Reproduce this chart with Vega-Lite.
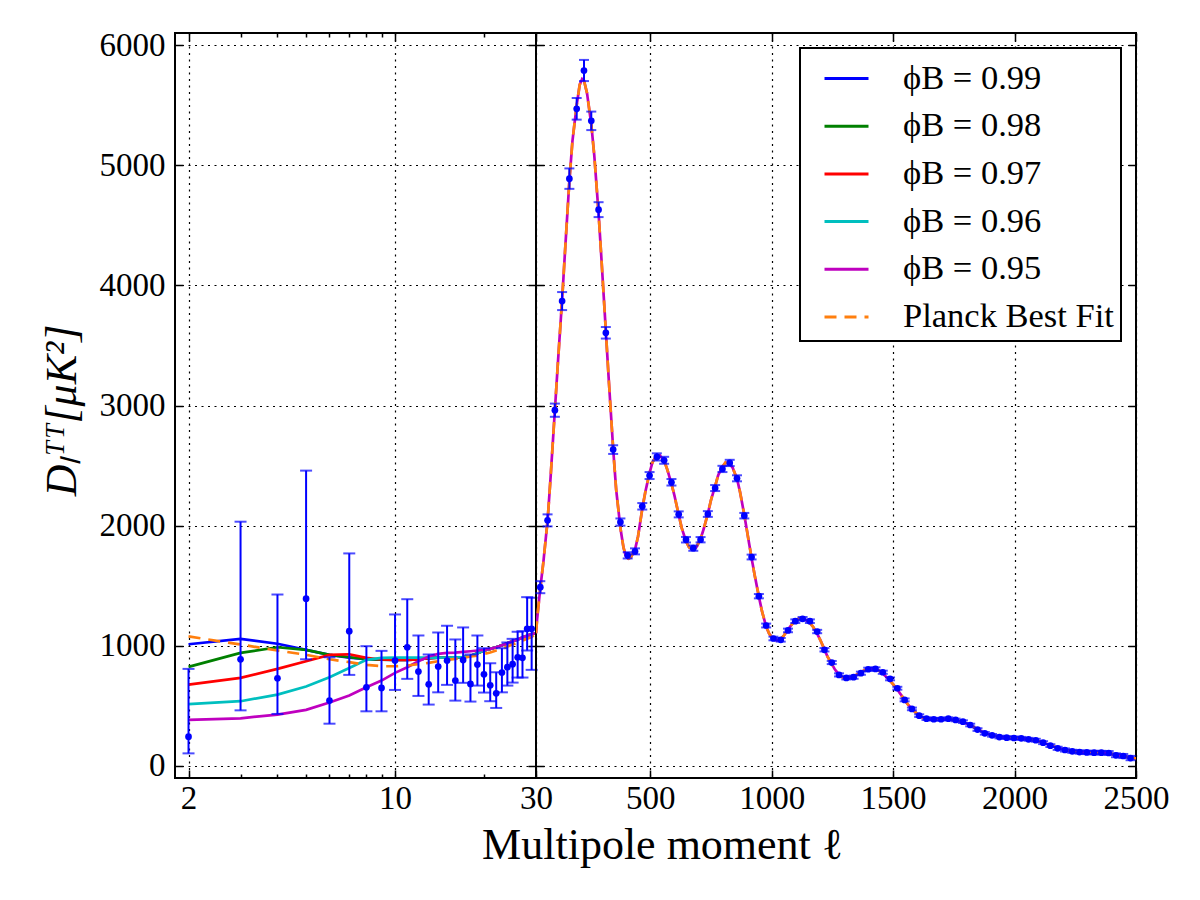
{
  "$schema": "https://vega.github.io/schema/vega-lite/v6.json",
  "background": "white",
  "padding": {"left": 39, "top": 28, "right": 0, "bottom": 0},
  "bounds": "flush",
  "spacing": 0,
  "datasets": {
    "low_l": [
      {"l": 2, "D": 244, "lo": 105, "hi": 808},
      {"l": 3, "D": 888, "lo": 463, "hi": 2033},
      {"l": 4, "D": 730, "lo": 433, "hi": 1427},
      {"l": 5, "D": 1392, "lo": 888, "hi": 2458},
      {"l": 6, "D": 544, "lo": 352, "hi": 905},
      {"l": 7, "D": 1122, "lo": 758, "hi": 1769},
      {"l": 8, "D": 655, "lo": 455, "hi": 997},
      {"l": 9, "D": 650, "lo": 455, "hi": 958},
      {"l": 10, "D": 877, "lo": 633, "hi": 1261},
      {"l": 11, "D": 988, "lo": 725, "hi": 1388},
      {"l": 12, "D": 786, "lo": 583, "hi": 1086},
      {"l": 13, "D": 680, "lo": 511, "hi": 928},
      {"l": 14, "D": 828, "lo": 613, "hi": 1111},
      {"l": 15, "D": 877, "lo": 675, "hi": 1167},
      {"l": 16, "D": 711, "lo": 544, "hi": 1053},
      {"l": 17, "D": 883, "lo": 692, "hi": 1153},
      {"l": 18, "D": 683, "lo": 536, "hi": 928},
      {"l": 19, "D": 844, "lo": 669, "hi": 1086},
      {"l": 20, "D": 763, "lo": 611, "hi": 980},
      {"l": 21, "D": 672, "lo": 539, "hi": 855},
      {"l": 22, "D": 605, "lo": 483, "hi": 780},
      {"l": 23, "D": 778, "lo": 613, "hi": 980},
      {"l": 24, "D": 822, "lo": 669, "hi": 1028},
      {"l": 25, "D": 847, "lo": 694, "hi": 1058},
      {"l": 26, "D": 905, "lo": 736, "hi": 1117},
      {"l": 27, "D": 900, "lo": 736, "hi": 1122},
      {"l": 28, "D": 1142, "lo": 961, "hi": 1405},
      {"l": 29, "D": 1142, "lo": 800, "hi": 1400}
    ],
    "binned": [
      {"l": 47.7, "D": 1488, "err": 50}, {"l": 77.6, "D": 2044, "err": 50}, {"l": 107.7, "D": 2961, "err": 55},
      {"l": 137.5, "D": 3869, "err": 75}, {"l": 167.4, "D": 4888, "err": 85}, {"l": 197.5, "D": 5469, "err": 90},
      {"l": 227.5, "D": 5788, "err": 88}, {"l": 257.6, "D": 5369, "err": 77}, {"l": 287.6, "D": 4630, "err": 62},
      {"l": 317.5, "D": 3605, "err": 48}, {"l": 347.6, "D": 2633, "err": 36}, {"l": 377.5, "D": 2030, "err": 30},
      {"l": 407.5, "D": 1753, "err": 26}, {"l": 437.6, "D": 1786, "err": 25}, {"l": 467.5, "D": 2161, "err": 27},
      {"l": 497.5, "D": 2417, "err": 29}, {"l": 527.5, "D": 2572, "err": 30}, {"l": 557.5, "D": 2544, "err": 29},
      {"l": 587.6, "D": 2361, "err": 27}, {"l": 617.5, "D": 2094, "err": 25}, {"l": 647.6, "D": 1883, "err": 23},
      {"l": 677.5, "D": 1813, "err": 22}, {"l": 707.5, "D": 1883, "err": 22}, {"l": 737.5, "D": 2097, "err": 24},
      {"l": 767.5, "D": 2313, "err": 25}, {"l": 797.5, "D": 2472, "err": 26}, {"l": 827.5, "D": 2522, "err": 26},
      {"l": 857.5, "D": 2394, "err": 25}, {"l": 887.5, "D": 2083, "err": 23}, {"l": 917.5, "D": 1739, "err": 20},
      {"l": 947.5, "D": 1413, "err": 18}, {"l": 977.5, "D": 1169, "err": 16}, {"l": 1007.5, "D": 1061, "err": 15},
      {"l": 1037.5, "D": 1050, "err": 15}, {"l": 1067.5, "D": 1128, "err": 15}, {"l": 1097.5, "D": 1205, "err": 15},
      {"l": 1127.5, "D": 1225, "err": 15}, {"l": 1157.5, "D": 1205, "err": 15}, {"l": 1187.5, "D": 1119, "err": 14},
      {"l": 1217.5, "D": 967, "err": 14}, {"l": 1247.5, "D": 861, "err": 13}, {"l": 1277.5, "D": 758, "err": 13},
      {"l": 1307.5, "D": 733, "err": 13}, {"l": 1337.5, "D": 739, "err": 13}, {"l": 1367.5, "D": 772, "err": 13},
      {"l": 1397.5, "D": 805, "err": 13}, {"l": 1427.5, "D": 808, "err": 13}, {"l": 1457.5, "D": 780, "err": 13},
      {"l": 1487.5, "D": 725, "err": 12}, {"l": 1517.5, "D": 647, "err": 12}, {"l": 1547.5, "D": 550, "err": 12},
      {"l": 1577.5, "D": 475, "err": 11}, {"l": 1607.5, "D": 419, "err": 11}, {"l": 1637.5, "D": 394, "err": 11},
      {"l": 1667.5, "D": 389, "err": 11}, {"l": 1697.5, "D": 389, "err": 11}, {"l": 1727.5, "D": 394, "err": 11},
      {"l": 1757.5, "D": 383, "err": 11}, {"l": 1787.5, "D": 369, "err": 11}, {"l": 1817.5, "D": 341, "err": 11},
      {"l": 1847.5, "D": 303, "err": 11}, {"l": 1877.5, "D": 272, "err": 11}, {"l": 1907.5, "D": 255, "err": 11},
      {"l": 1937.5, "D": 241, "err": 11}, {"l": 1967.5, "D": 236, "err": 11}, {"l": 1997.5, "D": 233, "err": 12},
      {"l": 2027.5, "D": 230, "err": 12}, {"l": 2057.5, "D": 222, "err": 12}, {"l": 2087.5, "D": 214, "err": 12},
      {"l": 2117.5, "D": 194, "err": 12}, {"l": 2147.5, "D": 169, "err": 12}, {"l": 2177.5, "D": 147, "err": 13},
      {"l": 2207.5, "D": 133, "err": 13}, {"l": 2237.5, "D": 122, "err": 13}, {"l": 2267.5, "D": 116, "err": 14},
      {"l": 2297.5, "D": 113, "err": 14}, {"l": 2327.5, "D": 111, "err": 15}, {"l": 2357.5, "D": 111, "err": 15},
      {"l": 2387.5, "D": 108, "err": 16}, {"l": 2417.5, "D": 89, "err": 16}, {"l": 2447.5, "D": 83, "err": 17},
      {"l": 2477.5, "D": 66, "err": 18}
    ],
    "models": [
      {"l": 2, "model": "ϕB = 0.99", "D": 1013}, {"l": 3, "model": "ϕB = 0.99", "D": 1058}, {"l": 4, "model": "ϕB = 0.99", "D": 1017},
      {"l": 5, "model": "ϕB = 0.99", "D": 966}, {"l": 6, "model": "ϕB = 0.99", "D": 925}, {"l": 7, "model": "ϕB = 0.99", "D": 902},
      {"l": 8, "model": "ϕB = 0.99", "D": 890}, {"l": 9, "model": "ϕB = 0.99", "D": 885}, {"l": 10, "model": "ϕB = 0.99", "D": 883},
      {"l": 11, "model": "ϕB = 0.99", "D": 883}, {"l": 12, "model": "ϕB = 0.99", "D": 888}, {"l": 13, "model": "ϕB = 0.99", "D": 897},
      {"l": 14, "model": "ϕB = 0.99", "D": 902}, {"l": 15, "model": "ϕB = 0.99", "D": 903}, {"l": 16, "model": "ϕB = 0.99", "D": 904},
      {"l": 17, "model": "ϕB = 0.99", "D": 906}, {"l": 18, "model": "ϕB = 0.99", "D": 915}, {"l": 19, "model": "ϕB = 0.99", "D": 938},
      {"l": 20, "model": "ϕB = 0.99", "D": 962}, {"l": 21, "model": "ϕB = 0.99", "D": 975}, {"l": 22, "model": "ϕB = 0.99", "D": 988},
      {"l": 23, "model": "ϕB = 0.99", "D": 1005}, {"l": 24, "model": "ϕB = 0.99", "D": 1022}, {"l": 25, "model": "ϕB = 0.99", "D": 1038},
      {"l": 26, "model": "ϕB = 0.99", "D": 1052}, {"l": 27, "model": "ϕB = 0.99", "D": 1069}, {"l": 28, "model": "ϕB = 0.99", "D": 1083},
      {"l": 29, "model": "ϕB = 0.99", "D": 1097}, {"l": 30, "model": "ϕB = 0.99", "D": 1105},

      {"l": 2, "model": "ϕB = 0.98", "D": 825}, {"l": 3, "model": "ϕB = 0.98", "D": 941}, {"l": 4, "model": "ϕB = 0.98", "D": 988},
      {"l": 5, "model": "ϕB = 0.98", "D": 966}, {"l": 6, "model": "ϕB = 0.98", "D": 925}, {"l": 7, "model": "ϕB = 0.98", "D": 905},
      {"l": 8, "model": "ϕB = 0.98", "D": 890}, {"l": 9, "model": "ϕB = 0.98", "D": 885}, {"l": 10, "model": "ϕB = 0.98", "D": 883},
      {"l": 11, "model": "ϕB = 0.98", "D": 883}, {"l": 12, "model": "ϕB = 0.98", "D": 888}, {"l": 13, "model": "ϕB = 0.98", "D": 897},
      {"l": 14, "model": "ϕB = 0.98", "D": 902}, {"l": 15, "model": "ϕB = 0.98", "D": 903}, {"l": 16, "model": "ϕB = 0.98", "D": 904},
      {"l": 17, "model": "ϕB = 0.98", "D": 906}, {"l": 18, "model": "ϕB = 0.98", "D": 915}, {"l": 19, "model": "ϕB = 0.98", "D": 938},
      {"l": 20, "model": "ϕB = 0.98", "D": 962}, {"l": 21, "model": "ϕB = 0.98", "D": 975}, {"l": 22, "model": "ϕB = 0.98", "D": 988},
      {"l": 23, "model": "ϕB = 0.98", "D": 1005}, {"l": 24, "model": "ϕB = 0.98", "D": 1022}, {"l": 25, "model": "ϕB = 0.98", "D": 1038},
      {"l": 26, "model": "ϕB = 0.98", "D": 1052}, {"l": 27, "model": "ϕB = 0.98", "D": 1069}, {"l": 28, "model": "ϕB = 0.98", "D": 1083},
      {"l": 29, "model": "ϕB = 0.98", "D": 1097}, {"l": 30, "model": "ϕB = 0.98", "D": 1105},

      {"l": 2, "model": "ϕB = 0.97", "D": 677}, {"l": 3, "model": "ϕB = 0.97", "D": 733}, {"l": 4, "model": "ϕB = 0.97", "D": 808},
      {"l": 5, "model": "ϕB = 0.97", "D": 872}, {"l": 6, "model": "ϕB = 0.97", "D": 925}, {"l": 7, "model": "ϕB = 0.97", "D": 930},
      {"l": 8, "model": "ϕB = 0.97", "D": 900}, {"l": 9, "model": "ϕB = 0.97", "D": 886}, {"l": 10, "model": "ϕB = 0.97", "D": 883},
      {"l": 11, "model": "ϕB = 0.97", "D": 883}, {"l": 12, "model": "ϕB = 0.97", "D": 888}, {"l": 13, "model": "ϕB = 0.97", "D": 897},
      {"l": 14, "model": "ϕB = 0.97", "D": 902}, {"l": 15, "model": "ϕB = 0.97", "D": 903}, {"l": 16, "model": "ϕB = 0.97", "D": 904},
      {"l": 17, "model": "ϕB = 0.97", "D": 906}, {"l": 18, "model": "ϕB = 0.97", "D": 915}, {"l": 19, "model": "ϕB = 0.97", "D": 938},
      {"l": 20, "model": "ϕB = 0.97", "D": 962}, {"l": 21, "model": "ϕB = 0.97", "D": 975}, {"l": 22, "model": "ϕB = 0.97", "D": 988},
      {"l": 23, "model": "ϕB = 0.97", "D": 1005}, {"l": 24, "model": "ϕB = 0.97", "D": 1022}, {"l": 25, "model": "ϕB = 0.97", "D": 1038},
      {"l": 26, "model": "ϕB = 0.97", "D": 1052}, {"l": 27, "model": "ϕB = 0.97", "D": 1069}, {"l": 28, "model": "ϕB = 0.97", "D": 1083},
      {"l": 29, "model": "ϕB = 0.97", "D": 1097}, {"l": 30, "model": "ϕB = 0.97", "D": 1105},

      {"l": 2, "model": "ϕB = 0.96", "D": 514}, {"l": 3, "model": "ϕB = 0.96", "D": 539}, {"l": 4, "model": "ϕB = 0.96", "D": 594},
      {"l": 5, "model": "ϕB = 0.96", "D": 661}, {"l": 6, "model": "ϕB = 0.96", "D": 739}, {"l": 7, "model": "ϕB = 0.96", "D": 816},
      {"l": 8, "model": "ϕB = 0.96", "D": 883}, {"l": 9, "model": "ϕB = 0.96", "D": 900}, {"l": 10, "model": "ϕB = 0.96", "D": 902},
      {"l": 11, "model": "ϕB = 0.96", "D": 902}, {"l": 12, "model": "ϕB = 0.96", "D": 902}, {"l": 13, "model": "ϕB = 0.96", "D": 902},
      {"l": 14, "model": "ϕB = 0.96", "D": 902}, {"l": 15, "model": "ϕB = 0.96", "D": 903}, {"l": 16, "model": "ϕB = 0.96", "D": 904},
      {"l": 17, "model": "ϕB = 0.96", "D": 906}, {"l": 18, "model": "ϕB = 0.96", "D": 915}, {"l": 19, "model": "ϕB = 0.96", "D": 938},
      {"l": 20, "model": "ϕB = 0.96", "D": 962}, {"l": 21, "model": "ϕB = 0.96", "D": 975}, {"l": 22, "model": "ϕB = 0.96", "D": 988},
      {"l": 23, "model": "ϕB = 0.96", "D": 1005}, {"l": 24, "model": "ϕB = 0.96", "D": 1022}, {"l": 25, "model": "ϕB = 0.96", "D": 1038},
      {"l": 26, "model": "ϕB = 0.96", "D": 1052}, {"l": 27, "model": "ϕB = 0.96", "D": 1069}, {"l": 28, "model": "ϕB = 0.96", "D": 1083},
      {"l": 29, "model": "ϕB = 0.96", "D": 1097}, {"l": 30, "model": "ϕB = 0.96", "D": 1105},

      {"l": 2, "model": "ϕB = 0.95", "D": 383}, {"l": 3, "model": "ϕB = 0.95", "D": 397}, {"l": 4, "model": "ϕB = 0.95", "D": 428},
      {"l": 5, "model": "ϕB = 0.95", "D": 467}, {"l": 6, "model": "ϕB = 0.95", "D": 528}, {"l": 7, "model": "ϕB = 0.95", "D": 586},
      {"l": 8, "model": "ϕB = 0.95", "D": 655}, {"l": 9, "model": "ϕB = 0.95", "D": 711}, {"l": 10, "model": "ϕB = 0.95", "D": 775},
      {"l": 11, "model": "ϕB = 0.95", "D": 822}, {"l": 12, "model": "ϕB = 0.95", "D": 872}, {"l": 13, "model": "ϕB = 0.95", "D": 911},
      {"l": 14, "model": "ϕB = 0.95", "D": 933}, {"l": 15, "model": "ϕB = 0.95", "D": 941}, {"l": 16, "model": "ϕB = 0.95", "D": 944},
      {"l": 17, "model": "ϕB = 0.95", "D": 950}, {"l": 18, "model": "ϕB = 0.95", "D": 955}, {"l": 19, "model": "ϕB = 0.95", "D": 961},
      {"l": 20, "model": "ϕB = 0.95", "D": 966}, {"l": 21, "model": "ϕB = 0.95", "D": 975}, {"l": 22, "model": "ϕB = 0.95", "D": 988},
      {"l": 23, "model": "ϕB = 0.95", "D": 1005}, {"l": 24, "model": "ϕB = 0.95", "D": 1022}, {"l": 25, "model": "ϕB = 0.95", "D": 1038},
      {"l": 26, "model": "ϕB = 0.95", "D": 1052}, {"l": 27, "model": "ϕB = 0.95", "D": 1069}, {"l": 28, "model": "ϕB = 0.95", "D": 1083},
      {"l": 29, "model": "ϕB = 0.95", "D": 1097}, {"l": 30, "model": "ϕB = 0.95", "D": 1105}
    ],
    "bestfit": [
      {"l": 2, "D": 1078}, {"l": 3, "D": 1011}, {"l": 4, "D": 961}, {"l": 5, "D": 925}, {"l": 6, "D": 888},
      {"l": 7, "D": 864}, {"l": 8, "D": 841}, {"l": 9, "D": 830}, {"l": 10, "D": 830}, {"l": 11, "D": 836},
      {"l": 12, "D": 847}, {"l": 13, "D": 858}, {"l": 14, "D": 872}, {"l": 15, "D": 883}, {"l": 16, "D": 891},
      {"l": 17, "D": 900}, {"l": 18, "D": 911}, {"l": 19, "D": 919}, {"l": 20, "D": 933}, {"l": 21, "D": 944},
      {"l": 22, "D": 961}, {"l": 23, "D": 977}, {"l": 24, "D": 994}, {"l": 25, "D": 1011}, {"l": 26, "D": 1027},
      {"l": 27, "D": 1044}, {"l": 28, "D": 1058}, {"l": 29, "D": 1072}, {"l": 30, "D": 1105},
      {"l": 35, "D": 1230}, {"l": 40, "D": 1330}, {"l": 47.7, "D": 1480}, {"l": 60, "D": 1690}, {"l": 77.6, "D": 2040},
      {"l": 90, "D": 2400}, {"l": 107.7, "D": 2960}, {"l": 120, "D": 3350}, {"l": 137.5, "D": 3880}, {"l": 150, "D": 4300},
      {"l": 167.4, "D": 4870}, {"l": 180, "D": 5200}, {"l": 197.5, "D": 5500}, {"l": 210, "D": 5670}, {"l": 220, "D": 5717},
      {"l": 227.5, "D": 5705}, {"l": 240, "D": 5600}, {"l": 257.6, "D": 5340}, {"l": 270, "D": 5080}, {"l": 287.6, "D": 4600},
      {"l": 300, "D": 4200}, {"l": 317.5, "D": 3620}, {"l": 330, "D": 3200}, {"l": 347.6, "D": 2640}, {"l": 360, "D": 2300},
      {"l": 377.5, "D": 1980}, {"l": 390, "D": 1820}, {"l": 400, "D": 1745}, {"l": 410, "D": 1725}, {"l": 420, "D": 1735},
      {"l": 437.6, "D": 1800}, {"l": 450, "D": 1910}, {"l": 467.5, "D": 2140}, {"l": 480, "D": 2280}, {"l": 497.5, "D": 2440},
      {"l": 510, "D": 2530}, {"l": 527.5, "D": 2585}, {"l": 540, "D": 2585}, {"l": 557.5, "D": 2540}, {"l": 570, "D": 2470},
      {"l": 587.6, "D": 2350}, {"l": 600, "D": 2250}, {"l": 617.5, "D": 2090}, {"l": 630, "D": 1980}, {"l": 647.6, "D": 1870},
      {"l": 660, "D": 1820}, {"l": 677.5, "D": 1800}, {"l": 690, "D": 1820}, {"l": 707.5, "D": 1890}, {"l": 720, "D": 1970},
      {"l": 737.5, "D": 2100}, {"l": 750, "D": 2210}, {"l": 767.5, "D": 2330}, {"l": 780, "D": 2420}, {"l": 797.5, "D": 2490},
      {"l": 810, "D": 2525}, {"l": 827.5, "D": 2515}, {"l": 840, "D": 2480}, {"l": 857.5, "D": 2390}, {"l": 870, "D": 2280},
      {"l": 887.5, "D": 2090}, {"l": 900, "D": 1940}, {"l": 917.5, "D": 1730}, {"l": 930, "D": 1590}, {"l": 947.5, "D": 1410},
      {"l": 960, "D": 1290}, {"l": 977.5, "D": 1160}, {"l": 990, "D": 1100}, {"l": 1007.5, "D": 1055}, {"l": 1020, "D": 1045},
      {"l": 1037.5, "D": 1055}, {"l": 1050, "D": 1085}, {"l": 1067.5, "D": 1135}, {"l": 1080, "D": 1170}, {"l": 1097.5, "D": 1210},
      {"l": 1110, "D": 1225}, {"l": 1127.5, "D": 1228}, {"l": 1140, "D": 1215}, {"l": 1157.5, "D": 1190}, {"l": 1170, "D": 1160},
      {"l": 1187.5, "D": 1100}, {"l": 1200, "D": 1050}, {"l": 1217.5, "D": 970}, {"l": 1230, "D": 910}, {"l": 1247.5, "D": 850},
      {"l": 1260, "D": 805}, {"l": 1277.5, "D": 760}, {"l": 1290, "D": 740}, {"l": 1307.5, "D": 730}, {"l": 1320, "D": 733},
      {"l": 1337.5, "D": 745}, {"l": 1350, "D": 760}, {"l": 1367.5, "D": 780}, {"l": 1380, "D": 795}, {"l": 1397.5, "D": 808},
      {"l": 1410, "D": 812}, {"l": 1427.5, "D": 808}, {"l": 1440, "D": 795}, {"l": 1457.5, "D": 770}, {"l": 1470, "D": 745},
      {"l": 1487.5, "D": 710}, {"l": 1500, "D": 680}, {"l": 1517.5, "D": 635}, {"l": 1530, "D": 600}, {"l": 1547.5, "D": 550},
      {"l": 1560, "D": 515}, {"l": 1577.5, "D": 475}, {"l": 1590, "D": 450}, {"l": 1607.5, "D": 422}, {"l": 1620, "D": 405},
      {"l": 1637.5, "D": 392}, {"l": 1660, "D": 386}, {"l": 1690, "D": 386}, {"l": 1720, "D": 388}, {"l": 1750, "D": 382},
      {"l": 1780, "D": 370}, {"l": 1810, "D": 348}, {"l": 1840, "D": 315}, {"l": 1870, "D": 282}, {"l": 1900, "D": 260},
      {"l": 1930, "D": 245}, {"l": 1960, "D": 237}, {"l": 1990, "D": 233}, {"l": 2020, "D": 230}, {"l": 2050, "D": 224},
      {"l": 2080, "D": 215}, {"l": 2110, "D": 200}, {"l": 2140, "D": 178}, {"l": 2170, "D": 155}, {"l": 2200, "D": 138},
      {"l": 2230, "D": 125}, {"l": 2260, "D": 117}, {"l": 2290, "D": 113}, {"l": 2320, "D": 111}, {"l": 2350, "D": 110},
      {"l": 2380, "D": 107}, {"l": 2410, "D": 96}, {"l": 2440, "D": 85}, {"l": 2470, "D": 72}, {"l": 2500, "D": 62}
    ]
  },
  "hconcat": [
    {
      "width": 361,
      "height": 745,
      "layer": [
        {
          "data": {"name": "models"},
          "mark": {"type": "line", "strokeWidth": 2.7, "clip": true},
          "encoding": {
            "x": {"field": "l", "type": "quantitative",
                  "scale": {"type": "log", "domain": [1.8, 30], "nice": false},
                  "axis": {"orient": "bottom", "values": [2, 10, 30], "format": "d", "grid": true, "tickSize": -8, "labelPadding": 12, "title": null}},
            "y": {"field": "D", "type": "quantitative",
                  "scale": {"domain": [-100, 6100], "nice": false, "zero": false},
                  "axis": {"orient": "left", "values": [0, 1000, 2000, 3000, 4000, 5000, 6000], "format": "d", "grid": true, "tickSize": -8, "labelPadding": 18,
                           "title": "Dₗᵀᵀ[μK²]", "titleFontStyle": "italic", "titleAngle": -90, "titleX": -100, "titleY": 377, "titleAlign": "center", "titleBaseline": "alphabetic"}},
            "color": {"field": "model", "type": "nominal", "sort": null,
                      "scale": {"domain": ["ϕB = 0.99", "ϕB = 0.98", "ϕB = 0.97", "ϕB = 0.96", "ϕB = 0.95"],
                                "range": ["#0000ff", "#008000", "#ff0000", "#00bfbf", "#bf00bf"]},
                      "legend": null}
          }
        },
        {
          "data": {"name": "bestfit"},
          "transform": [{"filter": "datum.l <= 30"}],
          "mark": {"type": "line", "color": "#ff7f0e", "strokeWidth": 2.7, "strokeDash": [12, 8], "strokeCap": "butt", "clip": true},
          "encoding": {
            "x": {"field": "l", "type": "quantitative",
                  "axis": {"orient": "bottom", "values": [3, 4, 5, 6, 7, 8, 9, 20], "labels": false, "grid": false, "tickSize": -4, "title": null}},
            "y": {"field": "D", "type": "quantitative",
                  "axis": {"orient": "right", "values": [0, 1000, 2000, 3000, 4000, 5000, 6000], "labels": false, "grid": false, "tickSize": -8, "title": null}}
          }
        },
        {
          "data": {"name": "low_l"},
          "mark": {"type": "errorbar", "color": "#0000ff", "thickness": 2, "ticks": {"size": 12, "thickness": 2}},
          "encoding": {
            "x": {"field": "l", "type": "quantitative",
                  "axis": {"orient": "top", "values": [2, 10, 30], "labels": false, "grid": false, "tickSize": -8, "title": null}},
            "y": {"field": "lo", "type": "quantitative", "axis": null},
            "y2": {"field": "hi"}
          }
        },
        {
          "data": {"name": "low_l"},
          "mark": {"type": "point", "filled": true, "opacity": 1, "color": "#0000ff", "size": 45},
          "encoding": {
            "x": {"field": "l", "type": "quantitative",
                  "axis": {"orient": "top", "values": [3, 4, 5, 6, 7, 8, 9, 20], "labels": false, "grid": false, "tickSize": -4, "title": null}},
            "y": {"field": "D", "type": "quantitative", "axis": null}
          }
        }
      ],
      "resolve": {"axis": {"x": "independent", "y": "independent"}}
    },
    {
      "width": 600,
      "height": 745,
      "layer": [
        {
          "data": {"name": "bestfit"},
          "transform": [{"filter": "datum.l >= 30"}],
          "mark": {"type": "line", "strokeWidth": 2.7, "strokeCap": "butt", "clip": true},
          "encoding": {
            "x": {"field": "l", "type": "quantitative",
                  "scale": {"domain": [30, 2500], "nice": false, "zero": false},
                  "axis": {"orient": "bottom", "values": [500, 1000, 1500, 2000, 2500], "format": "d", "grid": true, "tickSize": -8, "labelPadding": 12,
                           "title": "Multipole moment ℓ", "titleX": 126, "titleY": 80, "titleAlign": "center", "titleBaseline": "alphabetic"}},
            "y": {"field": "D", "type": "quantitative",
                  "scale": {"domain": [-100, 6100], "nice": false, "zero": false},
                  "axis": {"orient": "left", "values": [0, 1000, 2000, 3000, 4000, 5000, 6000], "labels": false, "grid": true, "tickSize": -8, "title": null}},
            "color": {"datum": "ϕB = 0.95", "type": "nominal",
                      "scale": {"domain": ["ϕB = 0.99", "ϕB = 0.98", "ϕB = 0.97", "ϕB = 0.96", "ϕB = 0.95", "Planck Best Fit"],
                                "range": ["#0000ff", "#008000", "#ff0000", "#00bfbf", "#bf00bf", "#ff7f0e"]},
                      "legend": {"title": null, "orient": "top-right", "offset": 15}},
            "strokeDash": {"datum": "ϕB = 0.95", "type": "nominal",
                           "scale": {"domain": ["ϕB = 0.99", "ϕB = 0.98", "ϕB = 0.97", "ϕB = 0.96", "ϕB = 0.95", "Planck Best Fit"],
                                     "range": [[1, 0], [1, 0], [1, 0], [1, 0], [1, 0], [12, 8]]},
                           "legend": {"title": null, "orient": "top-right", "offset": 15}}
          }
        },
        {
          "data": {"name": "bestfit"},
          "transform": [{"filter": "datum.l >= 30"}],
          "mark": {"type": "line", "strokeWidth": 2.7, "strokeCap": "butt", "clip": true},
          "encoding": {
            "x": {"field": "l", "type": "quantitative",
                  "axis": {"orient": "top", "values": [500, 1000, 1500, 2000, 2500], "labels": false, "grid": false, "tickSize": -8, "title": null}},
            "y": {"field": "D", "type": "quantitative",
                  "axis": {"orient": "right", "values": [0, 1000, 2000, 3000, 4000, 5000, 6000], "labels": false, "grid": false, "tickSize": -8, "title": null}},
            "color": {"datum": "Planck Best Fit", "type": "nominal"},
            "strokeDash": {"datum": "Planck Best Fit", "type": "nominal"}
          }
        },
        {
          "data": {"name": "binned"},
          "mark": {"type": "errorbar", "color": "#0000ff", "thickness": 2, "ticks": {"size": 10, "thickness": 2}},
          "encoding": {
            "x": {"field": "l", "type": "quantitative", "axis": null},
            "y": {"field": "D", "type": "quantitative", "axis": null},
            "yError": {"field": "err"}
          }
        },
        {
          "data": {"name": "binned"},
          "mark": {"type": "point", "filled": true, "opacity": 1, "color": "#0000ff", "size": 45},
          "encoding": {
            "x": {"field": "l", "type": "quantitative", "axis": null},
            "y": {"field": "D", "type": "quantitative", "axis": null}
          }
        }
      ],
      "resolve": {"axis": {"x": "independent", "y": "independent"}}
    }
  ],
  "resolve": {
    "scale": {"color": "independent", "strokeDash": "independent"},
    "legend": {"color": "independent", "strokeDash": "independent"}
  },
  "config": {
    "view": {"stroke": "black", "strokeWidth": 2},
    "axis": {
      "domain": false,
      "ticks": true,
      "tickColor": "black",
      "tickWidth": 1.5,
      "grid": false,
      "gridColor": "black",
      "gridDash": [2, 4.5],
      "gridWidth": 1.2,
      "gridOpacity": 1,
      "labelFont": "Liberation Serif",
      "labelFontSize": 33,
      "labelColor": "black",
      "labelFlush": false,
      "labelOverlap": false,
      "titleFont": "Liberation Serif",
      "titleFontSize": 44,
      "titleFontWeight": "normal",
      "titleColor": "black"
    },
    "legend": {
      "symbolType": "stroke",
      "symbolSize": 1936,
      "symbolStrokeWidth": 3,
      "symbolOffset": 16,
      "labelOffset": 33,
      "padding": 7,
      "rowPadding": 7.7,
      "fillColor": "white",
      "strokeColor": "black",
      "strokeWidth": 2,
      "cornerRadius": 0,
      "labelFont": "Liberation Serif",
      "labelFontSize": 34.5,
      "labelColor": "black",
      "labelLimit": 400
    }
  }
}
